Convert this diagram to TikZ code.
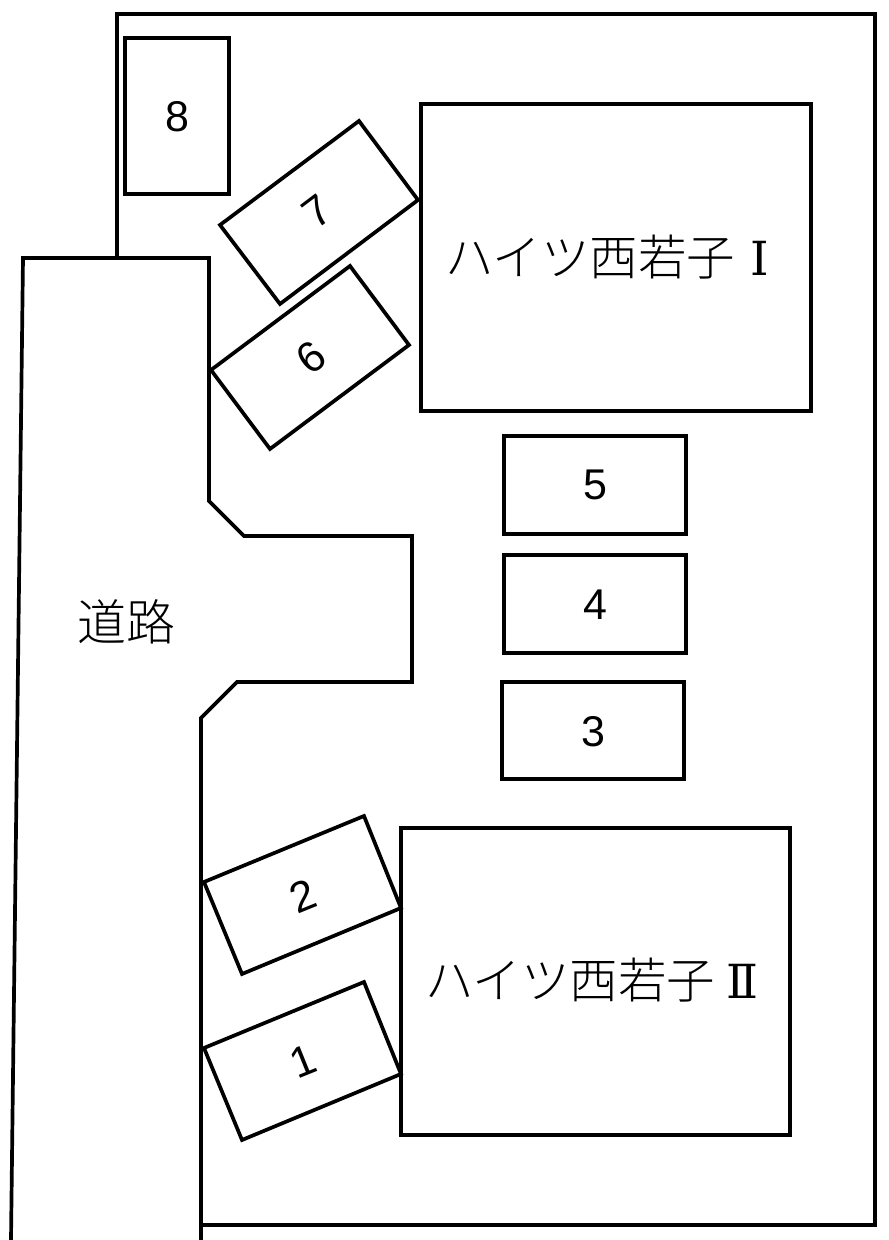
\documentclass[tikz,border=0pt]{standalone}
\usepackage{fontspec}
\setmainfont{Liberation Sans}
\newfontfamily\cjk{Noto Sans CJK JP Light}
\newfontfamily\rom{DejaVu Serif}
\tikzset{
  wall/.style={draw=black,line width=3.7pt,line join=miter,fill=none},
  num/.style={font=\fontsize{43}{43}\selectfont,inner sep=0pt,text=black},
  jp/.style={font=\cjk\fontsize{48.5}{48.5}\selectfont,inner sep=0pt,text=black},
  jpb/.style={font=\cjk\fontsize{49}{49}\selectfont,inner sep=0pt,text=black}
}
\begin{document}
\begin{tikzpicture}[x=1pt,y=1pt]
\useasboundingbox (0,0) rectangle (889,1240);
\begin{scope}[y=-1pt,yshift=1240pt]
\draw[wall] (117,258) -- (117,14) -- (875,14) -- (875,1225) -- (201,1225);
\draw[wall] (11,1240) -- (23,258) -- (209,258) -- (209,501) -- (244,536) -- (412,536) -- (412,682) -- (237,682) -- (201,718) -- (201,1240);
\draw[wall] (421,104) rectangle (811,411);
\draw[wall] (401,828) rectangle (790,1135);
\draw[wall] (125,38) rectangle (229,194);
\draw[wall] (504,436) rectangle (686,534);
\draw[wall] (504,555) rectangle (686,653);
\draw[wall] (502,682) rectangle (684,779);
\draw[wall] (220,225) -- (359,121) -- (418,200) -- (280,304) -- cycle;
\draw[wall] (211,370) -- (350,266) -- (409,345) -- (270,449) -- cycle;
\draw[wall] (204,882) -- (364,816) -- (401,908) -- (242,974) -- cycle;
\draw[wall] (204,1048) -- (364,982) -- (401,1074) -- (242,1140) -- cycle;
\coordinate (p8) at (177,117);
\coordinate (p7) at (317,212);
\coordinate (p6) at (311,357);
\coordinate (p5) at (595,485);
\coordinate (p4) at (595,605);
\coordinate (p3) at (593,732);
\coordinate (p2) at (303,896);
\coordinate (p1) at (303,1061);
\coordinate (ph1) at (445,257);
\coordinate (ph2) at (425,980);
\coordinate (pr) at (126,622);
\end{scope}
\node[num] (n8) at (p8) {8};
\node[num,rotate=37] (n7) at (p7) {7};
\node[num,rotate=37] (n6) at (p6) {6};
\node[num] (n5) at (p5) {5};
\node[num] (n4) at (p4) {4};
\node[num] (n3) at (p3) {3};
\node[num,rotate=22] (n2) at (p2) {2};
\node[num,rotate=22] (n1) at (p1) {1};
\node[jp,anchor=west] (h1) at (ph1) {ハイツ西若子\hspace{15pt}{\rom\fontsize{47}{47}\selectfont Ⅰ}};
\node[jp,anchor=west] (h2) at (ph2) {ハイツ西若子\hspace{11pt}{\rom\fontsize{47}{47}\selectfont Ⅱ}};
\node[jpb] (road) at (pr) {道路};
\end{tikzpicture}
\end{document}
